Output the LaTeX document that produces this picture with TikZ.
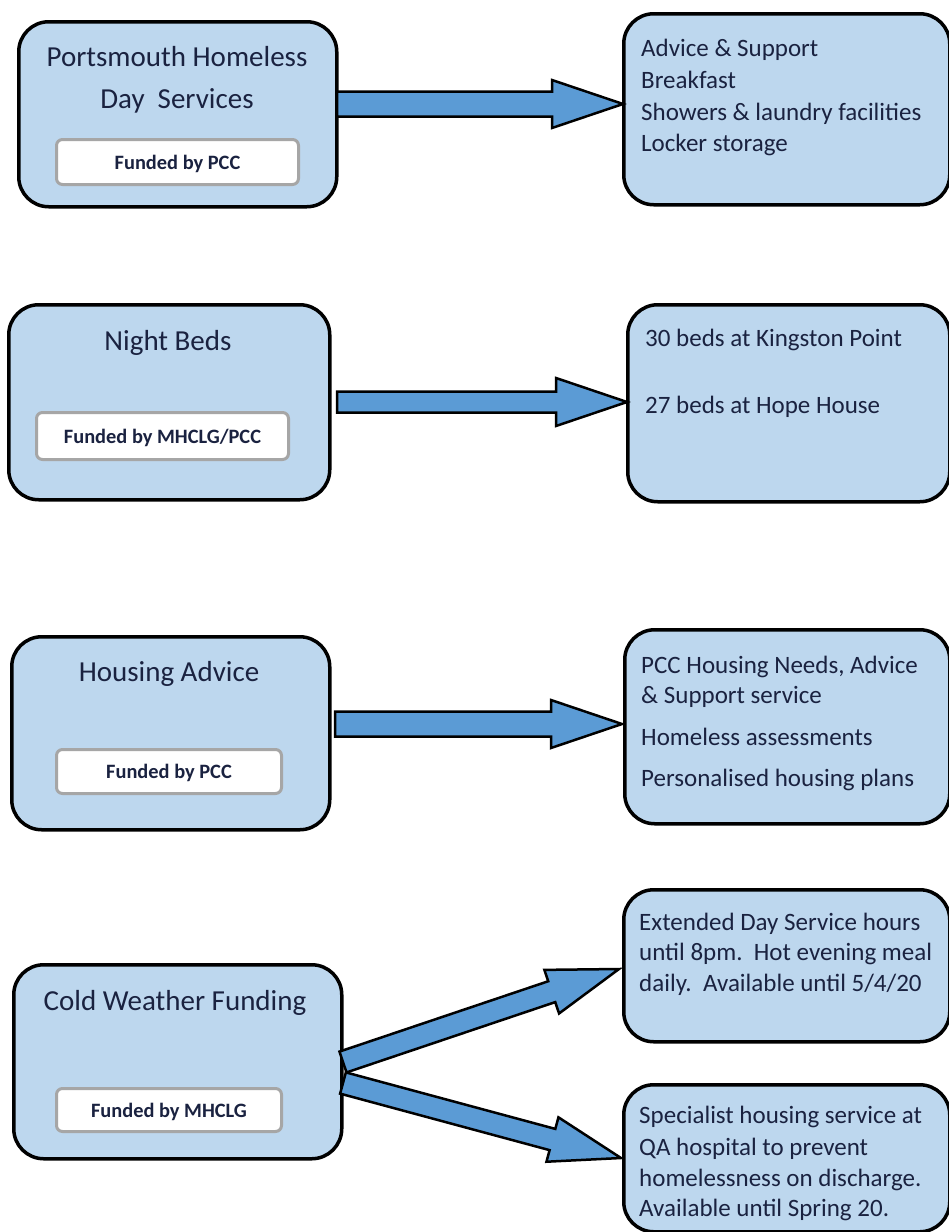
\documentclass[tikz,border=0pt]{standalone}
\usepackage{fontspec}
\setmainfont{Carlito}
\usetikzlibrary{calc}
\definecolor{boxfill}{HTML}{BDD7EE}
\definecolor{arrfill}{HTML}{5B9BD5}
\definecolor{txt}{HTML}{1A2240}
\definecolor{fundline}{HTML}{A6A6A6}
\tikzset{
  bigbox/.style={draw=black, line width=3.5pt, fill=boxfill, rounded corners=30pt, anchor=north west, inner sep=0pt},
  fundbox/.style={draw=fundline, line width=3pt, fill=white, rounded corners=6pt, anchor=north west, inner sep=0pt},
  title/.style={text=txt, font=\fontsize{29}{35}\selectfont, anchor=mid, inner sep=0pt, yshift=-6.5pt},
  body/.style={text=txt, font=\fontsize{25}{30}\selectfont, anchor=mid west, inner sep=0pt, yshift=-6pt},
  fundtext/.style={text=txt, font=\bfseries\fontsize{20.4}{24}\selectfont, anchor=mid, inner sep=0pt, yshift=-5pt},
  barrow/.style={draw=black, line width=2.5pt, fill=arrfill, line join=miter},
}
\newcommand{\blockarrow}[4]{%
  \coordinate (ab) at ($(#2)!71pt!(#1)$);
  \draw[barrow] ($(#1)!#3!90:(#2)$) -- ($(ab)!#3!90:(#2)$) -- ($(ab)!#4!90:(#2)$)
    -- (#2) -- ($(ab)!#4!-90:(#2)$) -- ($(ab)!#3!-90:(#2)$) -- ($(#1)!#3!-90:(#2)$) -- cycle;
}
\begin{document}
\begin{tikzpicture}[x=1pt,y=-1pt]
\useasboundingbox (0,0) rectangle (949,1232);
% ---- row 1
\node[bigbox, minimum width=318pt, minimum height=185pt] (L1) at (17,20) {};
\node[title] (t1a) at (177,58) {Portsmouth Homeless};
\node[title] (t1b) at (177,100) {Day\ \ Services};
\node[fundbox, minimum width=242pt, minimum height=45pt] (F1) at (55,138) {};
\node[fundtext] (f1) at (F1.center) {Funded by PCC};
\node[bigbox, minimum width=326pt, minimum height=191pt] (R1) at (622,12) {};
\node[body] (r1a) at (641,48) {Advice \& Support};
\node[body] (r1b) at (641,80) {Breakfast};
\node[body] (r1c) at (641,112) {Showers \& laundry facilities};
\node[body] (r1d) at (641,143) {Locker storage};
\coordinate (a1s) at (337,104);
\coordinate (a1e) at (623,104);
\blockarrow{a1s}{a1e}{12.5pt}{24pt}
% ---- row 2
\node[bigbox, minimum width=321pt, minimum height=195pt] (L2) at (7,303) {};
\node[title] (t2) at (168,342) {Night Beds};
\node[fundbox, minimum width=252pt, minimum height=47pt] (F2) at (35,411) {};
\node[fundtext] (f2) at (F2.center) {Funded by MHCLG/PCC};
\node[bigbox, minimum width=322pt, minimum height=197pt] (R2) at (626,303) {};
\node[body] (r2a) at (645,338) {30 beds at Kingston Point};
\node[body] (r2b) at (645,405) {27 beds at Hope House};
\coordinate (a2s) at (337,402);
\coordinate (a2e) at (627,402);
\blockarrow{a2s}{a2e}{10.5pt}{24pt}
% ---- row 3
\node[bigbox, minimum width=318pt, minimum height=193pt] (L3) at (10,635) {};
\node[title] (t3) at (169,673) {Housing Advice};
\node[fundbox, minimum width=225pt, minimum height=44pt] (F3) at (55,748) {};
\node[fundtext] (f3) at (F3.center) {Funded by PCC};
\node[bigbox, minimum width=325pt, minimum height=194pt] (R3) at (623,628) {};
\node[body] (r3a) at (641,665) {PCC Housing Needs, Advice};
\node[body] (r3b) at (641,695) {\& Support service};
\node[body] (r3c) at (641,737) {Homeless assessments};
\node[body] (r3d) at (641,778) {Personalised housing plans};
\coordinate (a3s) at (335,724);
\coordinate (a3e) at (622,724);
\blockarrow{a3s}{a3e}{12.5pt}{24pt}
% ---- row 4
\node[bigbox, minimum width=328pt, minimum height=194pt] (L4) at (12,963) {};
\node[title] (t4) at (175,1002) {Cold Weather Funding};
\node[fundbox, minimum width=225pt, minimum height=43pt] (F4) at (55,1087) {};
\node[fundtext] (f4) at (F4.center) {Funded by MHCLG};
\node[bigbox, minimum width=326pt, minimum height=152pt] (R4) at (622,888) {};
\node[body] (r4a) at (639,922) {Extended Day Service hours};
\node[body] (r4b) at (639,952) {until 8pm.\ \ Hot evening meal};
\node[body] (r4c) at (639,983) {daily.\ \ Available until 5/4/20};
\node[bigbox, minimum width=326pt, minimum height=147pt] (R5) at (622,1083) {};
\node[body] (r5a) at (639,1115) {Specialist housing service at};
\node[body] (r5b) at (639,1147) {QA hospital to prevent};
\node[body] (r5c) at (639,1178) {homelessness on discharge.};
\node[body] (r5d) at (639,1208) {Available until Spring 20.};
\coordinate (a4s) at (343,1062);
\coordinate (a4e) at (619,969);
\blockarrow{a4s}{a4e}{11pt}{23pt}
\coordinate (a5s) at (343,1083);
\coordinate (a5e) at (621,1158);
\blockarrow{a5s}{a5e}{11pt}{23pt}
\end{tikzpicture}
\end{document}
